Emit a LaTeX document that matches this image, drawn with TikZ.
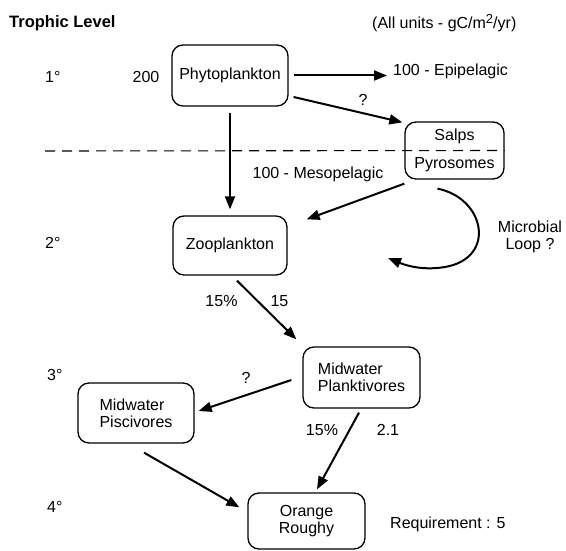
\documentclass[tikz,border=0pt]{standalone}
\usepackage{fontspec}
\setmainfont{Liberation Sans}
\usetikzlibrary{arrows.meta}
\pgfdeclarelayer{bg}
\pgfsetlayers{bg,main}

\begin{document}
\begin{tikzpicture}[x=1pt, y=-1pt,
    every node/.style={font=\fontsize{16}{17}\selectfont, inner sep=0pt},
    box/.style 2 args={draw, rounded corners=11pt, line width=1.3pt, minimum width=#1, minimum height=#2, align=center},
    flow/.style={line width=2pt, -{Triangle[length=13pt,width=10pt]}},
    surf/.style={line width=1.1pt, dash pattern=on 10pt off 7pt}]
    \useasboundingbox (0,0) rectangle (566,551);

    \node (title) [anchor=west, font=\fontsize{16.5}{18}\selectfont\bfseries] at (9,23) {Trophic Level};
    \node (units) [anchor=west] at (372,23) {(All units - gC/m\raisebox{5pt}{\fontsize{13}{13}\selectfont 2}/yr)};

    \node (lvl1) [anchor=west] at (45,77) {1\textdegree};
    \node (lvl2) [anchor=west] at (45,243) {2\textdegree};
    \node (lvl3) [anchor=west] at (47,375) {3\textdegree};
    \node (lvl4) [anchor=west] at (47,507) {4\textdegree};

    \node (phyto) [box={116pt}{61pt}] at (230,75.5) {Phytoplankton};
    \node (salps) [box={99pt}{57pt}] at (454.5,150.5) {Salps\\[11pt]Pyrosomes};
    \node (zoo) [box={114pt}{59pt}] at (230,245.5) {Zooplankton};
    \node (plank) [box={117pt}{61pt}, align=left] at (361.5,377.5) {Midwater\\Planktivores};
    \node (pisc) [box={116pt}{60pt}, align=left] at (136,413) {Midwater\\Piscivores};
    \node (orange) [box={117pt}{56pt}] at (306.5,521) {Orange\\Roughy};

    \node (prod) at (146,77) {200};
    \node (epi) [anchor=west] at (393,71) {100 - Epipelagic};
    \node (q1) at (363,100) {?};
    \node (meso) at (318,174) {100 - Mesopelagic};
    \node (micro) [align=center] at (530,237) {Microbial\\Loop ?};
    \node (eff1) at (221.5,301) {15\%};
    \node (val1) at (279.5,301) {15};
    \node (q2) at (246,378) {?};
    \node (eff2) at (322,430) {15\%};
    \node (val2) at (388,430) {2.1};
    \node (req) [anchor=west] at (390,524) {Requirement : 5};

    \coordinate (surface) at (45,151);
    \coordinate (loopend) at (388,258);

    \begin{pgfonlayer}{bg}
        \draw[surf] (surface) -- (salps.east);
        \draw[flow, shorten <=5pt, shorten >=6pt] (phyto.east) -- (phyto.east -| epi.west);
        \draw[flow] ([shift={(5,21.5)}]phyto.east) -- ([shift={(-2,1)}]salps.north west);
        \draw[flow, shorten <=6pt, shorten >=6pt] (phyto.south) -- (zoo.north);
        \draw[flow] ([shift={(0,4)}]salps.south west) -- ([shift={(19,4)}]zoo.north east);
        \draw[flow] ([shift={(-17,9)}]salps.south) .. controls (485,198) and (497,258) .. (445,267)
            .. controls (419,271.5) and (400,263) .. (loopend);
        \draw[flow] ([shift={(7,5)}]zoo.south) -- ([shift={(-6,-7)}]plank.north west);
        \draw[flow] ([shift={(-11,2.5)}]plank.west) -- ([shift={(4,-2)}]pisc.east);
        \draw[flow] ([shift={(8,9)}]pisc.south) -- ([shift={(-8,15)}]orange.north west);
        \draw[flow] ([shift={(-2.5,4)}]plank.south) -- ([shift={(10.5,-3)}]orange.north);
    \end{pgfonlayer}
\end{tikzpicture}
\end{document}
